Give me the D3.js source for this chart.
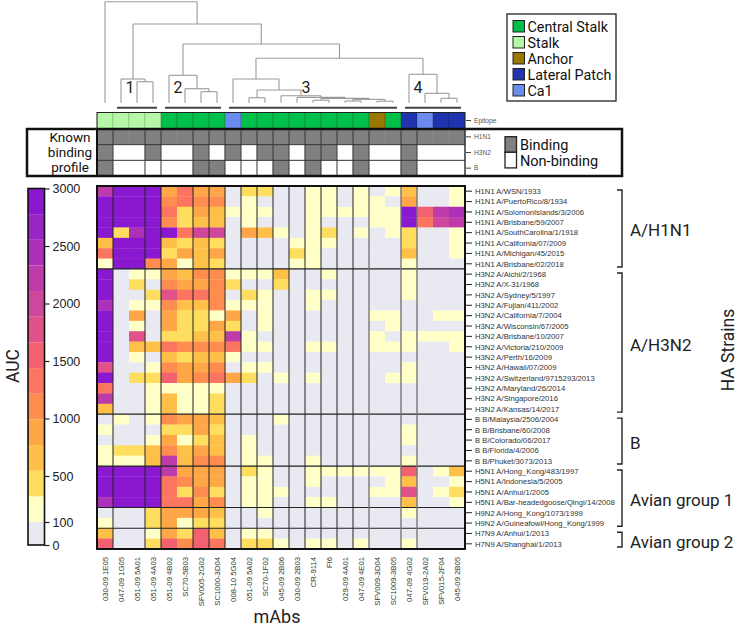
<!DOCTYPE html>
<html>
<head>
<meta charset="utf-8">
<script src="https://cdn.jsdelivr.net/npm/d3@7"></script>
<style>
  body { margin: 0; background: #fff; }
  svg text { font-family: "Liberation Sans", Arial, sans-serif; }
  .big { font-family: Roboto, "Noto Sans", sans-serif !important; }
</style>
</head>
<body>
<svg id="chart" width="738" height="627"></svg>
<script>
// ---- data ----
const mAbs = ["030-09 1E05", "047-09 1G05", "051-09 5A01", "051-09 4A03", "051-09 4B02", "SC70-5B03",
  "SFV005-2G02", "SC1000-3D04", "008-10 5G04", "051-09 5A02", "SC70-1F02", "045-09 2B06", "030-09 2B03",
  "CR-9114", "FI6", "029-09 4A01", "047-09 4E01", "SFV009-3D04", "SC1009-3B05", "047-09 4G02",
  "SFV019-2A02", "SFV015-2F04", "045-09 2B05"];

const epitopes = ["Stalk", "Stalk", "Stalk", "Stalk", "Central Stalk", "Central Stalk", "Central Stalk",
  "Central Stalk", "Ca1", "Central Stalk", "Central Stalk", "Central Stalk", "Central Stalk", "Central Stalk",
  "Central Stalk", "Central Stalk", "Central Stalk", "Anchor", "Central Stalk", "Lateral Patch", "Ca1",
  "Lateral Patch", "Lateral Patch"];

const epitopeNames = ["Central Stalk", "Stalk", "Anchor", "Lateral Patch", "Ca1"];
const epitopeColors = ["#00c04b", "#b4f7a6", "#9a7800", "#1f34ae", "#6a8cee"];

// known binding profile (1 = binding)
const bindRows = ["H1N1", "H3N2", "B"];
const bindH1N1 = [1, 1, 1, 1, 1, 1, 1, 1, 1, 1, 1, 1, 1, 1, 1, 1, 1, 1, 1, 1, 1, 1, 1];
const bindH3N2 = [1, 0, 0, 1, 0, 0, 1, 0, 1, 0, 1, 1, 0, 1, 1, 0, 1, 0, 0, 1, 0, 0, 0];
const bindB    = [1, 0, 0, 0, 0, 0, 1, 1, 0, 0, 0, 1, 0, 1, 0, 0, 1, 0, 0, 1, 0, 0, 0];

const strains = ["H1N1 A/WSN/1933", "H1N1 A/PuertoRico/8/1934", "H1N1 A/SolomonIslands/3/2006",
  "H1N1 A/Brisbane/59/2007", "H1N1 A/SouthCarolina/1/1918", "H1N1 A/California/07/2009",
  "H1N1 A/Michigan/45/2015", "H1N1 A/Brisbane/02/2018",
  "H3N2 A/Aichi/2/1968", "H3N2 A/X-31/1968", "H3N2 A/Sydney/5/1997", "H3N2 A/Fujian/411/2002",
  "H3N2 A/California/7/2004", "H3N2 A/Wisconsin/67/2005", "H3N2 A/Brisbane/10/2007",
  "H3N2 A/Victoria/210/2009", "H3N2 A/Perth/16/2009", "H3N2 A/Hawaii/07/2009",
  "H3N2 A/Switzerland/9715293/2013", "H3N2 A/Maryland/26/2014", "H3N2 A/Singapore/2016",
  "H3N2 A/Kansas/14/2017",
  "B B/Malaysia/2506/2004", "B B/Brisbane/60/2008", "B B/Colorado/06/2017", "B B/Florida/4/2006",
  "B B/Phuket/3073/2013",
  "H5N1 A/Hong_Kong/483/1997", "H5N1 A/Indonesia/5/2005", "H5N1 A/Anhui/1/2005",
  "H5N1 A/Bar-headedgoose/Qingi/14/2008",
  "H9N2 A/Hong_Kong/1073/1999", "H9N2 A/Guineafowl/Hong_Kong/1999",
  "H7N9 A/Anhui/1/2013", "H7N9 A/Shanghai/1/2013"];

// AUC, one row per strain, columns in mAbs order
const auc = [
  [2210, 2950, 2950, 2900, 880, 1320, 900, 860, 40, 450, 430, 40, 40, 200, 180, 40, 190, 40, 210, 640, 40, 40, 170],
  [2900, 2950, 2950, 2930, 1100, 1350, 1080, 1120, 40, 210, 40, 40, 40, 190, 200, 40, 180, 160, 40, 920, 40, 40, 180],
  [2910, 2950, 2950, 2930, 1330, 440, 870, 680, 170, 220, 190, 40, 40, 200, 210, 150, 190, 220, 200, 2920, 1560, 2230, 2450],
  [2900, 2950, 2950, 2920, 1120, 470, 660, 690, 40, 200, 40, 40, 40, 180, 40, 40, 40, 200, 230, 2930, 1340, 2000, 2200],
  [2880, 460, 2450, 2930, 2880, 1330, 1980, 1990, 40, 880, 640, 180, 40, 200, 450, 40, 170, 40, 190, 450, 40, 40, 200],
  [660, 2950, 2950, 2920, 650, 450, 640, 430, 40, 40, 40, 40, 190, 190, 200, 40, 40, 40, 40, 460, 40, 40, 190],
  [1320, 2950, 2950, 2910, 470, 900, 690, 880, 40, 40, 40, 40, 440, 170, 40, 40, 40, 40, 40, 700, 40, 40, 200],
  [200, 2950, 2950, 1110, 880, 190, 650, 440, 40, 40, 40, 40, 180, 200, 40, 40, 40, 40, 40, 210, 40, 40, 40],
  [2920, 40, 190, 200, 890, 660, 1100, 1130, 200, 180, 200, 650, 40, 40, 190, 40, 40, 40, 40, 200, 40, 40, 40],
  [2930, 40, 450, 40, 1110, 900, 880, 1090, 440, 40, 40, 460, 40, 40, 40, 40, 40, 40, 40, 190, 40, 40, 40],
  [2900, 40, 40, 440, 1780, 1340, 1320, 1120, 40, 460, 190, 40, 40, 200, 180, 40, 40, 40, 40, 200, 40, 40, 40],
  [2440, 40, 200, 190, 1120, 650, 670, 1100, 200, 190, 180, 40, 40, 190, 40, 40, 40, 40, 40, 40, 40, 40, 40],
  [2910, 40, 880, 40, 870, 450, 440, 200, 890, 40, 190, 40, 40, 40, 40, 40, 40, 190, 200, 40, 40, 190, 200],
  [2930, 40, 200, 40, 880, 460, 430, 900, 450, 40, 200, 40, 40, 40, 40, 40, 40, 40, 190, 40, 40, 40, 40],
  [2900, 40, 1770, 40, 450, 440, 660, 680, 2220, 190, 40, 40, 40, 40, 40, 40, 40, 200, 40, 190, 180, 190, 200],
  [2920, 40, 650, 660, 1330, 1110, 1100, 1090, 1320, 200, 190, 40, 40, 190, 200, 40, 40, 180, 200, 190, 40, 40, 190],
  [2930, 40, 200, 40, 660, 450, 650, 670, 190, 40, 40, 40, 40, 40, 40, 40, 40, 40, 40, 40, 40, 40, 40],
  [1780, 40, 40, 190, 1110, 900, 880, 1100, 40, 200, 190, 40, 40, 40, 40, 40, 40, 40, 40, 200, 40, 40, 40],
  [2920, 40, 460, 450, 1560, 880, 1100, 1330, 900, 470, 40, 200, 40, 190, 40, 40, 40, 40, 200, 190, 40, 40, 40],
  [1340, 40, 40, 200, 190, 200, 180, 190, 40, 40, 40, 40, 40, 40, 40, 40, 40, 40, 40, 40, 40, 40, 40],
  [2230, 40, 40, 190, 660, 200, 190, 450, 40, 40, 40, 40, 40, 40, 40, 40, 40, 40, 40, 40, 40, 40, 40],
  [650, 40, 40, 200, 670, 190, 200, 440, 40, 40, 40, 40, 40, 40, 40, 40, 40, 40, 40, 40, 40, 40, 40],
  [40, 190, 40, 200, 1110, 890, 880, 660, 40, 40, 40, 190, 40, 40, 40, 40, 40, 40, 40, 40, 40, 40, 40],
  [190, 40, 40, 40, 450, 440, 880, 460, 40, 40, 40, 40, 40, 40, 40, 40, 40, 40, 40, 200, 40, 40, 40],
  [40, 40, 40, 190, 890, 190, 450, 650, 40, 200, 40, 40, 40, 40, 40, 40, 40, 40, 40, 190, 40, 40, 40],
  [200, 450, 440, 660, 1100, 650, 880, 660, 40, 190, 40, 40, 40, 40, 40, 40, 40, 40, 40, 40, 40, 40, 40],
  [190, 200, 180, 650, 2220, 660, 1120, 1100, 40, 200, 190, 40, 40, 200, 40, 40, 40, 40, 40, 190, 40, 40, 40],
  [2900, 2950, 2950, 2920, 2210, 900, 880, 890, 40, 450, 200, 40, 40, 190, 200, 190, 200, 180, 190, 1560, 40, 190, 660],
  [2910, 2950, 2950, 2930, 1330, 1100, 880, 900, 40, 200, 190, 40, 40, 190, 40, 40, 40, 40, 200, 670, 40, 40, 200],
  [2930, 2950, 2950, 2920, 1320, 450, 1110, 460, 40, 200, 190, 200, 40, 40, 40, 40, 40, 190, 200, 1780, 40, 190, 450],
  [2440, 2950, 2950, 2930, 1340, 1330, 890, 1100, 40, 190, 200, 40, 40, 200, 190, 40, 40, 40, 40, 660, 40, 40, 190],
  [40, 40, 40, 450, 880, 890, 900, 660, 40, 40, 190, 40, 40, 40, 40, 40, 40, 40, 40, 200, 40, 40, 40],
  [190, 40, 40, 460, 890, 200, 450, 440, 40, 40, 40, 40, 40, 40, 40, 40, 40, 40, 40, 40, 40, 40, 40],
  [660, 40, 40, 190, 880, 450, 1560, 650, 40, 200, 190, 40, 40, 40, 40, 40, 40, 40, 40, 40, 40, 40, 40],
  [1560, 40, 40, 450, 1570, 1100, 1550, 1330, 40, 450, 440, 190, 40, 200, 190, 40, 200, 40, 40, 190, 40, 40, 40]
];

const aucBreaks = [100, 323, 546, 769, 992, 1215, 1438, 1662, 1885, 2108, 2331, 2554, 2777];
const aucColors = ["#e9e9f2", "#ffffc8", "#ffdd5e", "#ffc04a", "#ffa646", "#ff8d50", "#fc7560",
  "#f1616f", "#e1528a", "#cf479c", "#be3caa", "#ad30b8", "#9b24c4", "#8a18ce"];
const aucTicks = [0, 100, 500, 1000, 1500, 2000, 2500, 3000];

const strainGroups = [
  { name: "A/H1N1", subtypes: ["H1N1"] },
  { name: "A/H3N2", subtypes: ["H3N2"] },
  { name: "B", subtypes: ["B"] },
  { name: "Avian group 1", subtypes: ["H5N1", "H9N2"] },
  { name: "Avian group 2", subtypes: ["H7N9"] }
];

// clusters: first/last column, label sits at left edge of column "at"
const clusters = [
  { label: "1", from: 1, to: 3, at: 2 },
  { label: "2", from: 4, to: 7, at: 5 },
  { label: "3", from: 8, to: 18, at: 13 },
  { label: "4", from: 19, to: 22, at: 20 }
];

// dendrogram: leaves are column indices, h = merge height
const dendro = { h: 101, c: [0, { h: 78.7, c: [
  { h: 23.7, c: [1, { h: 21, c: [2, 3] }] },
  { h: 58.7, c: [
    { h: 27.4, c: [4, { h: 14, c: [5, { h: 11, c: [6, 7] }] }] },
    { h: 44.4, c: [
      { h: 23.7, c: [8, { h: 12.7, c: [
        { h: 5, c: [9, 10] },
        { h: 7, c: [11, { h: 5.3, c: [12, { h: 4.3, c: [
          { h: 2.5, c: [13, 14] },
          { h: 3.3, c: [{ h: 1.7, c: [15, 16] }, { h: 1.5, c: [17, 18] }] }
        ] }] }] }
      ] }] },
      { h: 28.4, c: [19, { h: 9.4, c: [20, { h: 4.4, c: [21, 22] }] }] }
    ] }
  ] }
] }] };

// ---- layout ----
const svg = d3.select("#chart");
const x = d3.scaleBand().domain(d3.range(mAbs.length)).range([97, 465]);
const y = d3.scaleBand().domain(d3.range(strains.length)).range([186, 549]);
const bw = x.bandwidth();
const color = d3.scaleThreshold().domain(aucBreaks).range(aucColors);
const subtype = s => s.split(" ")[0];
const bindData = [bindH1N1, bindH3N2, bindB];
const profile = i => bindData.map(r => r[i]).join("");
// column boundaries where binding profile changes
const colSeps = d3.range(1, mAbs.length).filter(i => profile(i) !== profile(i - 1));
const graySeps = [17, 19, 20];
const rowSeps = d3.range(1, strains.length).filter(i => subtype(strains[i]) !== subtype(strains[i - 1]));

// ---- dendrogram ----
const hY = d3.scaleLinear().domain([0, 101]).range([102.7, 1.7]);
const dg = svg.append("g").attr("fill", "none").attr("stroke", "#9a9a9a").attr("stroke-width", 1.1);
function drawNode(n) {
  if (typeof n === "number") return { x: x(n) + bw / 2, h: 0 };
  const kids = n.c.map(drawNode);
  const ny = hY(n.h);
  kids.forEach(k => dg.append("line").attr("x1", k.x).attr("x2", k.x).attr("y1", hY(k.h)).attr("y2", ny));
  dg.append("line").attr("x1", kids[0].x).attr("x2", kids[1].x).attr("y1", ny).attr("y2", ny);
  return { x: d3.mean(kids, k => k.x), h: n.h };
}
drawNode(dendro);

clusters.forEach(c => {
  svg.append("text").attr("class", "big").attr("x", x(c.at) + 1).attr("y", 92.5)
    .attr("text-anchor", "middle").attr("font-size", 16).attr("fill", "#222").text(c.label);
  svg.append("line").attr("x1", x(c.from) + 4).attr("x2", x(c.to) + bw - 4)
    .attr("y1", 107.7).attr("y2", 107.7).attr("stroke", "#444").attr("stroke-width", 2);
});

// ---- epitope row ----
const epColor = d3.scaleOrdinal().domain(epitopeNames).range(epitopeColors);
const epY0 = 112.5, epY1 = 128.5;
svg.append("g").selectAll("rect").data(epitopes).join("rect")
  .attr("x", (d, i) => x(i)).attr("y", epY0).attr("width", bw).attr("height", epY1 - epY0)
  .attr("fill", d => epColor(d)).attr("stroke", "rgba(0,0,0,0.25)").attr("stroke-width", 0.6);
svg.append("rect").attr("x", 97).attr("y", epY0).attr("width", 368).attr("height", epY1 - epY0)
  .attr("fill", "none").attr("stroke", "#222").attr("stroke-width", 1);

// ---- binding profile ----
const bY = d3.scaleBand().domain(bindRows).range([129, 176]);
const bg = svg.append("g");
bindData.forEach((row, r) => {
  bg.selectAll(null).data(row).join("rect")
    .attr("x", (d, i) => x(i)).attr("y", bY(bindRows[r])).attr("width", bw).attr("height", bY.bandwidth())
    .attr("fill", d => d ? "#808080" : "#fff").attr("stroke", d => d ? "#8c8c8c" : "none").attr("stroke-width", 0.5);
});
bindRows.slice(1).forEach(r => bg.append("line").attr("x1", 97).attr("x2", 465)
  .attr("y1", bY(r)).attr("y2", bY(r)).attr("stroke", "#333").attr("stroke-width", 1));
colSeps.forEach(i => bg.append("line").attr("x1", x(i)).attr("x2", x(i)).attr("y1", 129).attr("y2", 176)
  .attr("stroke", "#333").attr("stroke-width", 1));
bg.append("line").attr("x1", 97).attr("x2", 97).attr("y1", 129).attr("y2", 176).attr("stroke", "#111").attr("stroke-width", 2);
bg.append("line").attr("x1", 465).attr("x2", 465).attr("y1", 129).attr("y2", 176).attr("stroke", "#333").attr("stroke-width", 1.5);
svg.append("rect").attr("x", 27).attr("y", 129).attr("width", 595).attr("height", 47)
  .attr("fill", "none").attr("stroke", "#111").attr("stroke-width", 2.5);
["Known", "binding", "profile"].forEach((t, i) => svg.append("text").attr("class", "big")
  .attr("x", 70).attr("y", 142 + i * 15.2).attr("text-anchor", "middle").attr("font-size", 13.5)
  .attr("fill", "#111").text(t));

// side labels for epitope + binding rows
const sideLabels = [{ t: "Epitope", y: (epY0 + epY1) / 2 }].concat(bindRows.map(r => ({ t: r, y: bY(r) + bY.bandwidth() / 2 })));
sideLabels.forEach(s => {
  svg.append("line").attr("x1", 466).attr("x2", 471).attr("y1", s.y).attr("y2", s.y).attr("stroke", "#444");
  svg.append("text").attr("x", 474).attr("y", s.y + 2.3).attr("font-size", 6.6).attr("fill", "#555").text(s.t);
});

// binding legend
[["Binding", "#808080"], ["Non-binding", "#fff"]].forEach(([t, c], i) => {
  svg.append("rect").attr("x", 505).attr("y", 136.7 + i * 15.6).attr("width", 11.5).attr("height", 15.6)
    .attr("fill", c).attr("stroke", "#222").attr("stroke-width", 1.3);
  svg.append("text").attr("class", "big").attr("x", 520).attr("y", 149.5 + i * 16).attr("font-size", 14.5)
    .attr("fill", "#111").text(t);
});

// epitope legend
svg.append("rect").attr("x", 507).attr("y", 14).attr("width", 109).attr("height", 87)
  .attr("fill", "#fff").attr("stroke", "#222").attr("stroke-width", 1.3);
epitopeNames.forEach((n, i) => {
  svg.append("rect").attr("x", 513).attr("y", 20.5 + i * 16).attr("width", 11.5).attr("height", 11.5)
    .attr("fill", epColor(n)).attr("stroke", "#222").attr("stroke-width", 1);
  svg.append("text").attr("class", "big").attr("x", 527.5).attr("y", 31.5 + i * 16).attr("font-size", 14.3)
    .attr("fill", "#111").text(n);
});

// ---- heatmap ----
const hm = svg.append("g");
auc.forEach((row, r) => {
  hm.selectAll(null).data(row).join("rect")
    .attr("x", (d, i) => x(i)).attr("y", y(r)).attr("width", bw + 0.3).attr("height", y.bandwidth() + 0.3)
    .attr("fill", d => color(d));
});
rowSeps.forEach(r => hm.append("line").attr("x1", 97).attr("x2", 465).attr("y1", y(r)).attr("y2", y(r))
  .attr("stroke", "#222").attr("stroke-width", 1.2));
colSeps.forEach(i => hm.append("line").attr("x1", x(i)).attr("x2", x(i)).attr("y1", 186).attr("y2", 549)
  .attr("stroke", graySeps.includes(i) ? "#777" : "#222").attr("stroke-width", graySeps.includes(i) ? 1.4 : 1));
hm.append("rect").attr("x", 97).attr("y", 186).attr("width", 368).attr("height", 363)
  .attr("fill", "none").attr("stroke", "#111").attr("stroke-width", 2);

// row labels
strains.forEach((s, r) => {
  const cy = y(r) + y.bandwidth() / 2;
  svg.append("line").attr("x1", 466).attr("x2", 472).attr("y1", cy).attr("y2", cy).attr("stroke", "#222");
  svg.append("text").attr("x", 475).attr("y", cy + 2.8).attr("font-size", 7.7).attr("fill", "#333").text(s);
});

// column labels
mAbs.forEach((m, i) => {
  svg.append("text").attr("transform", `translate(${x(i) + bw / 2 + 2.8},557) rotate(-90)`)
    .attr("text-anchor", "end").attr("font-size", 7.7).attr("fill", "#333").text(m);
});
svg.append("text").attr("class", "big").attr("x", 277).attr("y", 623).attr("text-anchor", "middle")
  .attr("font-size", 18).attr("fill", "#222").text("mAbs");

// group brackets
strainGroups.forEach(g => {
  const idx = strains.map((s, i) => g.subtypes.includes(subtype(s)) ? i : -1).filter(i => i >= 0);
  const top = y(idx[0]) + 4, bot = y(idx[idx.length - 1]) + y.bandwidth() - 2;
  svg.append("path").attr("d", `M617,${top}H622V${bot}H617`).attr("fill", "none")
    .attr("stroke", "#222").attr("stroke-width", 1.4);
  svg.append("text").attr("class", "big").attr("x", 630).attr("y", (top + bot) / 2 + 8)
    .attr("font-size", 17).attr("fill", "#222").text(g.name);
});
svg.append("text").attr("class", "big").attr("transform", "translate(734,350) rotate(-90)")
  .attr("text-anchor", "middle").attr("font-size", 17.5).attr("fill", "#222").text("HA Strains");

// ---- AUC legend ----
const ly = d3.scaleLinear().domain([0, 100, 3000]).range([545, 522, 188.5]);
const edges = [0].concat(aucBreaks, [3000]);
svg.append("g").selectAll("rect").data(aucColors).join("rect")
  .attr("x", 28).attr("width", 16.5)
  .attr("y", (d, i) => ly(edges[i + 1])).attr("height", (d, i) => ly(edges[i]) - ly(edges[i + 1]))
  .attr("fill", d => d);
svg.append("rect").attr("x", 28).attr("y", 188.5).attr("width", 16.5).attr("height", 545 - 188.5)
  .attr("fill", "none").attr("stroke", "#111").attr("stroke-width", 1.6);
const legAxis = svg.append("g").attr("transform", "translate(44.5,0)")
  .call(d3.axisRight(ly).tickValues(aucTicks).tickFormat(d3.format("d")).tickSize(5).tickSizeOuter(0).tickPadding(3));
legAxis.select(".domain").remove();
legAxis.selectAll("line").attr("stroke", "#222").attr("stroke-width", 1.2);
legAxis.selectAll("text").attr("font-size", 12.5).attr("fill", "#222")
  .attr("font-family", "Roboto, 'Noto Sans', sans-serif");
svg.append("text").attr("class", "big").attr("transform", "translate(19,366) rotate(-90)")
  .attr("text-anchor", "middle").attr("font-size", 17.5).attr("fill", "#222").text("AUC");
</script>
</body>
</html>
